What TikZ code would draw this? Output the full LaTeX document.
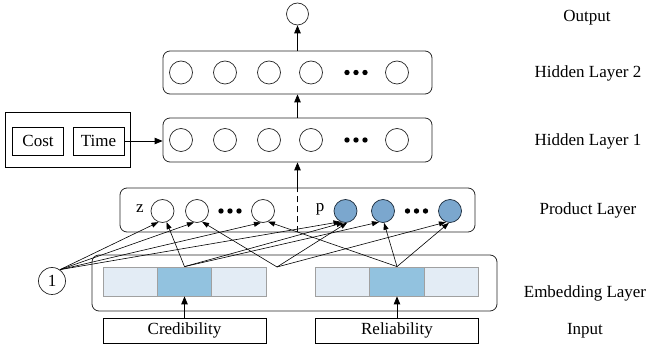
\documentclass[tikz,border=0pt]{standalone}
\usepackage{fontspec}
\setmainfont{Liberation Serif}
\newfontfamily\tnr{Liberation Serif}
\usetikzlibrary{arrows.meta}
\definecolor{cellL}{HTML}{E3ECF5}
\definecolor{cellB}{HTML}{92C2DF}
\definecolor{cellE}{HTML}{A0A0A0}
\definecolor{nblue}{HTML}{7BA7CE}
\definecolor{nedge}{HTML}{1A2A3A}
\begin{document}
\begin{tikzpicture}[x=1pt,y=-1pt,
  lay/.style={draw=black!85, rounded corners=7pt, line width=0.8pt, inner sep=0pt},
  neu/.style={draw=black!85, circle, minimum size=23pt, inner sep=0pt, line width=0.7pt},
  bneu/.style={neu, fill=nblue, draw=nedge},
  cell/.style={draw=cellE, fill=cellL, minimum width=54.5pt, minimum height=29pt, inner sep=0pt, line width=0.8pt},
  bcell/.style={cell, fill=cellB},
  txt/.style={font=\tnr\fontsize{17}{20}\selectfont},
  inbox/.style={draw, txt, minimum width=163pt, minimum height=25pt, inner sep=0pt, line width=0.7pt},
  sbox/.style={draw, txt, minimum width=51pt, minimum height=28pt, inner sep=0pt, line width=0.7pt},
  arr/.style={-{Triangle[length=8pt,width=6.5pt]}, line width=0.8pt},
  tarr/.style={-{Triangle[length=7pt,width=5pt]}, line width=0.6pt},
  dot/.style={fill=black}
]
\useasboundingbox (0,0) rectangle (651,347);

% layer boxes
\node[lay, minimum width=269pt, minimum height=43pt] (h2) at (297.5,72.5) {};
\node[lay, minimum width=269pt, minimum height=44pt] (h1) at (297.5,140) {};
\node[lay, minimum width=355pt, minimum height=44pt] (pl) at (297.5,210) {};
\node[lay, minimum width=405pt, minimum height=56pt] (el) at (294.5,283) {};

% output
\node[neu, minimum size=22pt] (out) at (297.5,14) {};

% hidden neurons
\foreach \x [count=\i] in {181,225,269,311,397} {
  \node[neu] (a\i) at (\x,72.5) {};
  \node[neu] (b\i) at (\x,140) {};
}
\foreach \y in {72.5,140} \foreach \dx in {-9,0,9} \fill[dot] (356+\dx,\y) circle (2.7pt);

% product layer
\node[txt] (zl) at (140,209) {z};
\node[neu] (z1) at (162.5,211) {};
\node[neu] (z2) at (197,211) {};
\node[neu] (z3) at (263,211) {};
\node[txt] (pll) at (320,209) {p};
\node[bneu] (p1) at (345.5,211) {};
\node[bneu] (p2) at (383,211) {};
\node[bneu] (p3) at (450,211) {};
\foreach \dx in {-9,0,9} {
  \fill[dot] (230+\dx,211) circle (2.7pt);
  \fill[dot] (416.5+\dx,211) circle (2.7pt);
}

% embedding cells
\node[cell]  (c1) at (130.5,281.5) {};
\node[bcell] (c2) at (184.5,281.5) {};
\node[cell]  (c3) at (239,281.5) {};
\node[cell]  (d1) at (342.5,281.5) {};
\node[bcell] (d2) at (397,281.5) {};
\node[cell]  (d3) at (451.5,281.5) {};

% inputs
\node[inbox] (cr) at (184.5,330.5) {Credibility};
\node[inbox] (re) at (397,330.5) {Reliability};

% cost / time
\node[draw, line width=0.7pt, minimum width=125pt, minimum height=55pt, inner sep=0pt] (ct) at (67.5,139.5) {};
\node[sbox] (cost) at (38,141) {Cost};
\node[sbox] (time) at (98.5,141) {Time};

% constant 1
\node[neu, minimum size=27pt, txt] (one) at (52,281) {1};

% layer labels
\node[txt] (lo) at (587,18) {Output};
\node[txt] (lh2) at (588,73) {Hidden Layer 2};
\node[txt] (lh1) at (588,141) {Hidden Layer 1};
\node[txt] (lp) at (588,210) {Product Layer};
\node[txt] (le) at (585,293) {Embedding Layer};
\node[txt] (li) at (585,331) {Input};

% main connectors
\draw[arr] (h2.north) -- (out.south);
\draw[arr] (h1.north) -- (h2.south);
\draw[arr] (time.east) -- (time.east -| h1.west);
\draw[line width=0.8pt, dash pattern=on 6pt off 4pt] (pl.south) -- (pl.north);
\draw[arr] (pl.north) -- (h1.south);
\draw[arr] (cr.north) -- (c2.south);
\draw[arr] (re.north) -- (d2.south);

% product connections
\coordinate (lv) at (c2.north);
\coordinate (mv) at (277,267);
\coordinate (rv) at (d2.north);
\foreach \t in {z1.250, z2.255, z3.260, p1.245} \draw[tarr] (one.55) -- (\t);
\foreach \t in {z1.290, p1.260, p2.250} \draw[tarr] (lv) -- (\t);
\foreach \t in {z2.295, p1.278, p3.250} \draw[tarr] (mv) -- (\t);
\foreach \t in {z3.295, p2.275, p3.265} \draw[tarr] (rv) -- (\t);
\end{tikzpicture}
\end{document}
